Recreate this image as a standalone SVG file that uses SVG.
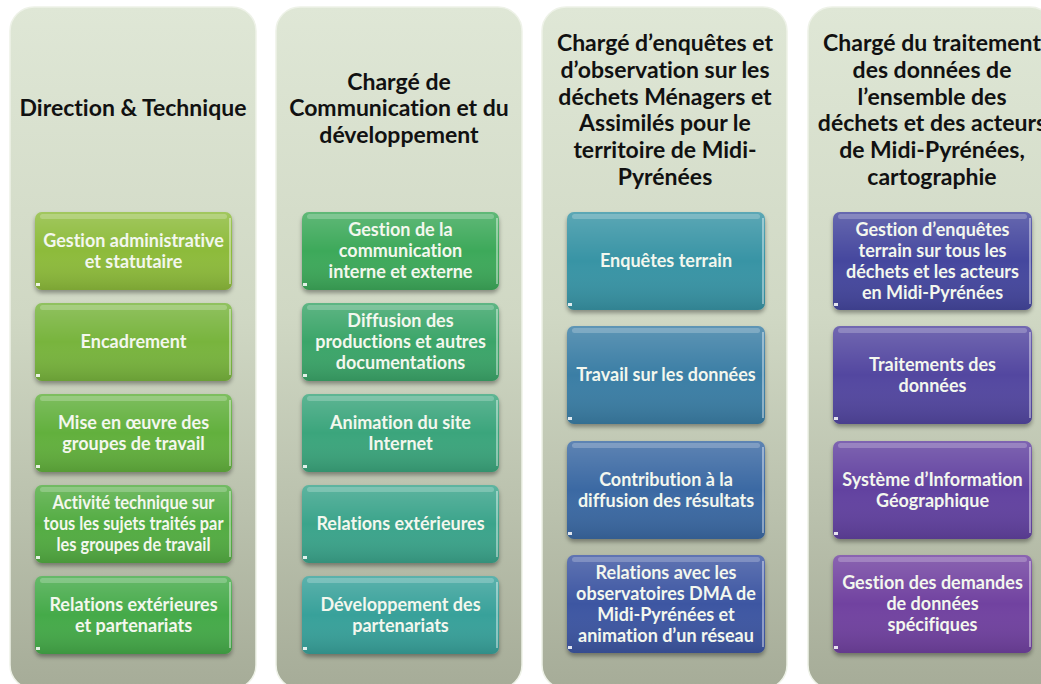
<svg xmlns="http://www.w3.org/2000/svg" width="1041" height="684" viewBox="0 0 1041 684">
<defs>
<linearGradient id="pg" x1="0" y1="0" x2="0" y2="1">
<stop offset="0" stop-color="#dfe7d6"/>
<stop offset="0.45" stop-color="#d0d8c4"/>
<stop offset="1" stop-color="#a6ac98"/>
</linearGradient>
<linearGradient id="shade" x1="0" y1="0" x2="0" y2="1">
<stop offset="0" stop-color="#ffffff" stop-opacity="0.18"/>
<stop offset="0.5" stop-color="#ffffff" stop-opacity="0"/>
<stop offset="1" stop-color="#000000" stop-opacity="0.12"/>
</linearGradient>
<filter id="sh" x="-10%" y="-10%" width="120%" height="130%">
<feDropShadow dx="0" dy="3" stdDeviation="2" flood-color="#000" flood-opacity="0.35"/>
</filter>
<style>
.panel{fill:url(#pg);stroke:#eef2e8;stroke-width:1.5}
.box{stroke:none;filter:url(#sh)}
.gl{fill:url(#shade)}
.hl{fill:#ffffff;fill-opacity:0.22}
.re{stroke:#ffffff;stroke-opacity:0.55;stroke-width:1.5;fill:none}
.mk{fill:#ffffff;fill-opacity:0.85}
.t{font-family:Lato,"Liberation Sans",sans-serif;font-weight:bold;font-size:23px;fill:#111111;text-anchor:middle;font-variant-ligatures:none}
.b{font-family:Lato,"Liberation Sans",sans-serif;font-weight:bold;font-size:18px;fill:#f3f7ee;text-anchor:middle;font-variant-ligatures:none}
</style>
</defs>
<rect width="1041" height="684" fill="#ffffff"/>

<g id="col1">
<rect class="panel" x="10" y="7" width="246" height="682" rx="24"/>
<text class="t" x="133" y="116">Direction &amp; Technique</text>
</g>
<g id="col2">
<rect class="panel" x="276" y="7" width="246" height="682" rx="24"/>
<text class="t" x="399" y="90">Chargé de</text>
<text class="t" x="399" y="116">Communication et du</text>
<text class="t" x="399" y="143">développement</text>
</g>
<g id="col3">
<rect class="panel" x="542" y="7" width="245" height="682" rx="24"/>
<text class="t" x="665" y="51">Chargé d’enquêtes et</text>
<text class="t" x="665" y="78">d’observation sur les</text>
<text class="t" x="665" y="105">déchets Ménagers et</text>
<text class="t" x="665" y="131">Assimilés pour le</text>
<text class="t" x="665" y="158">territoire de Midi-</text>
<text class="t" x="665" y="185">Pyrénées</text>
</g>
<g id="col4">
<rect class="panel" x="808" y="7" width="246" height="682" rx="24"/>
<text class="t" x="932" y="51">Chargé du traitement</text>
<text class="t" x="932" y="78">des données de</text>
<text class="t" x="932" y="105">l’ensemble des</text>
<text class="t" x="932" y="131">déchets et des acteurs</text>
<text class="t" x="932" y="158">de Midi-Pyrénées,</text>
<text class="t" x="932" y="185">cartographie</text>
</g>

<g id="connectors"></g>

<!-- Column 1 boxes -->
<g id="c1b1">
<rect class="box" x="35" y="212" width="197" height="78" rx="7" fill="#8dbb3a"/>
<rect class="gl" x="35" y="212" width="197" height="78" rx="7"/>
<rect class="hl" x="40" y="214" width="187" height="5" rx="2.5"/>
<path class="re" d="M230 218 V284"/>
<path class="mk" d="M36 283 h4 v3 h-4 z"/>
<text class="b" x="133.5" y="247">Gestion administrative</text>
<text class="b" x="133.5" y="268">et statutaire</text>
</g>
<g id="c1b2">
<rect class="box" x="35" y="303" width="197" height="78" rx="7" fill="#78b43c"/>
<rect class="gl" x="35" y="303" width="197" height="78" rx="7"/>
<rect class="hl" x="40" y="305" width="187" height="5" rx="2.5"/>
<path class="re" d="M230 309 V375"/>
<path class="mk" d="M36 374 h4 v3 h-4 z"/>
<text class="b" x="133.5" y="348">Encadrement</text>
</g>
<g id="c1b3">
<rect class="box" x="35" y="394" width="197" height="78" rx="7" fill="#62b03e"/>
<rect class="gl" x="35" y="394" width="197" height="78" rx="7"/>
<rect class="hl" x="40" y="396" width="187" height="5" rx="2.5"/>
<path class="re" d="M230 400 V466"/>
<path class="mk" d="M36 465 h4 v3 h-4 z"/>
<text class="b" x="133.5" y="429">Mise en œuvre des</text>
<text class="b" x="133.5" y="450">groupes de travail</text>
</g>
<g id="c1b4">
<rect class="box" x="35" y="485" width="197" height="78" rx="7" fill="#52ac42"/>
<rect class="gl" x="35" y="485" width="197" height="78" rx="7"/>
<rect class="hl" x="40" y="487" width="187" height="5" rx="2.5"/>
<path class="re" d="M230 491 V557"/>
<path class="mk" d="M36 556 h4 v3 h-4 z"/>
<text class="b" x="133.5" y="509" textLength="162" lengthAdjust="spacingAndGlyphs">Activité technique sur</text>
<text class="b" x="133.5" y="530" textLength="180" lengthAdjust="spacingAndGlyphs">tous les sujets traités par</text>
<text class="b" x="133.5" y="551" textLength="154" lengthAdjust="spacingAndGlyphs">les groupes de travail</text>
</g>
<g id="c1b5">
<rect class="box" x="35" y="576" width="197" height="78" rx="7" fill="#45aa48"/>
<rect class="gl" x="35" y="576" width="197" height="78" rx="7"/>
<rect class="hl" x="40" y="578" width="187" height="5" rx="2.5"/>
<path class="re" d="M230 582 V648"/>
<path class="mk" d="M36 647 h4 v3 h-4 z"/>
<text class="b" x="133.5" y="611">Relations extérieures</text>
<text class="b" x="133.5" y="632">et partenariats</text>
</g>

<!-- Column 2 boxes -->
<g id="c2b1">
<rect class="box" x="302" y="212" width="197" height="78" rx="7" fill="#3ea95a"/>
<rect class="gl" x="302" y="212" width="197" height="78" rx="7"/>
<rect class="hl" x="307" y="214" width="187" height="5" rx="2.5"/>
<path class="re" d="M497 218 V284"/>
<path class="mk" d="M303 283 h4 v3 h-4 z"/>
<text class="b" x="400.5" y="236">Gestion de la</text>
<text class="b" x="400.5" y="257">communication</text>
<text class="b" x="400.5" y="278">interne et externe</text>
</g>
<g id="c2b2">
<rect class="box" x="302" y="303" width="197" height="78" rx="7" fill="#3ba569"/>
<rect class="gl" x="302" y="303" width="197" height="78" rx="7"/>
<rect class="hl" x="307" y="305" width="187" height="5" rx="2.5"/>
<path class="re" d="M497 309 V375"/>
<path class="mk" d="M303 374 h4 v3 h-4 z"/>
<text class="b" x="400.5" y="327">Diffusion des</text>
<text class="b" x="400.5" y="348">productions et autres</text>
<text class="b" x="400.5" y="369">documentations</text>
</g>
<g id="c2b3">
<rect class="box" x="302" y="394" width="197" height="78" rx="7" fill="#3ba57b"/>
<rect class="gl" x="302" y="394" width="197" height="78" rx="7"/>
<rect class="hl" x="307" y="396" width="187" height="5" rx="2.5"/>
<path class="re" d="M497 400 V466"/>
<path class="mk" d="M303 465 h4 v3 h-4 z"/>
<text class="b" x="400.5" y="429">Animation du site</text>
<text class="b" x="400.5" y="450">Internet</text>
</g>
<g id="c2b4">
<rect class="box" x="302" y="485" width="197" height="78" rx="7" fill="#3aa48b"/>
<rect class="gl" x="302" y="485" width="197" height="78" rx="7"/>
<rect class="hl" x="307" y="487" width="187" height="5" rx="2.5"/>
<path class="re" d="M497 491 V557"/>
<path class="mk" d="M303 556 h4 v3 h-4 z"/>
<text class="b" x="400.5" y="530">Relations extérieures</text>
</g>
<g id="c2b5">
<rect class="box" x="302" y="576" width="197" height="78" rx="7" fill="#39a19a"/>
<rect class="gl" x="302" y="576" width="197" height="78" rx="7"/>
<rect class="hl" x="307" y="578" width="187" height="5" rx="2.5"/>
<path class="re" d="M497 582 V648"/>
<path class="mk" d="M303 647 h4 v3 h-4 z"/>
<text class="b" x="400.5" y="611">Développement des</text>
<text class="b" x="400.5" y="632">partenariats</text>
</g>

<!-- Column 3 boxes -->
<g id="c3b1">
<rect class="box" x="567" y="212" width="198" height="98" rx="7" fill="#3994a5"/>
<rect class="gl" x="567" y="212" width="198" height="98" rx="7"/>
<rect class="hl" x="572" y="214" width="188" height="5" rx="2.5"/>
<path class="re" d="M763 218 V304"/>
<path class="mk" d="M568 303 h4 v3 h-4 z"/>
<text class="b" x="666" y="267">Enquêtes terrain</text>
</g>
<g id="c3b2">
<rect class="box" x="567" y="326" width="198" height="98" rx="7" fill="#3a7ea5"/>
<rect class="gl" x="567" y="326" width="198" height="98" rx="7"/>
<rect class="hl" x="572" y="328" width="188" height="5" rx="2.5"/>
<path class="re" d="M763 332 V418"/>
<path class="mk" d="M568 417 h4 v3 h-4 z"/>
<text class="b" x="666" y="381">Travail sur les données</text>
</g>
<g id="c3b3">
<rect class="box" x="567" y="441" width="198" height="98" rx="7" fill="#3b69a3"/>
<rect class="gl" x="567" y="441" width="198" height="98" rx="7"/>
<rect class="hl" x="572" y="443" width="188" height="5" rx="2.5"/>
<path class="re" d="M763 447 V533"/>
<path class="mk" d="M568 532 h4 v3 h-4 z"/>
<text class="b" x="666" y="486">Contribution à la</text>
<text class="b" x="666" y="507">diffusion des résultats</text>
</g>
<g id="c3b4">
<rect class="box" x="567" y="555" width="198" height="98" rx="7" fill="#3c56a2"/>
<rect class="gl" x="567" y="555" width="198" height="98" rx="7"/>
<rect class="hl" x="572" y="557" width="188" height="5" rx="2.5"/>
<path class="re" d="M763 561 V647"/>
<path class="mk" d="M568 646 h4 v3 h-4 z"/>
<text class="b" x="666" y="579">Relations avec les</text>
<text class="b" x="666" y="600">observatoires DMA de</text>
<text class="b" x="666" y="621">Midi-Pyrénées et</text>
<text class="b" x="666" y="642">animation d’un réseau</text>
</g>

<!-- Column 4 boxes -->
<g id="c4b1">
<rect class="box" x="833" y="212" width="199" height="98" rx="7" fill="#44479e"/>
<rect class="gl" x="833" y="212" width="199" height="98" rx="7"/>
<rect class="hl" x="838" y="214" width="189" height="5" rx="2.5"/>
<path class="re" d="M1030 218 V304"/>
<path class="mk" d="M834 303 h4 v3 h-4 z"/>
<text class="b" x="932.5" y="236">Gestion d’enquêtes</text>
<text class="b" x="932.5" y="257">terrain sur tous les</text>
<text class="b" x="932.5" y="278">déchets et les acteurs</text>
<text class="b" x="932.5" y="299">en Midi-Pyrénées</text>
</g>
<g id="c4b2">
<rect class="box" x="833" y="326" width="199" height="98" rx="7" fill="#5246a0"/>
<rect class="gl" x="833" y="326" width="199" height="98" rx="7"/>
<rect class="hl" x="838" y="328" width="189" height="5" rx="2.5"/>
<path class="re" d="M1030 332 V418"/>
<path class="mk" d="M834 417 h4 v3 h-4 z"/>
<text class="b" x="932.5" y="371">Traitements des</text>
<text class="b" x="932.5" y="392">données</text>
</g>
<g id="c4b3">
<rect class="box" x="833" y="441" width="199" height="98" rx="7" fill="#6243a0"/>
<rect class="gl" x="833" y="441" width="199" height="98" rx="7"/>
<rect class="hl" x="838" y="443" width="189" height="5" rx="2.5"/>
<path class="re" d="M1030 447 V533"/>
<path class="mk" d="M834 532 h4 v3 h-4 z"/>
<text class="b" x="932.5" y="486">Système d’Information</text>
<text class="b" x="932.5" y="507">Géographique</text>
</g>
<g id="c4b4">
<rect class="box" x="833" y="555" width="199" height="98" rx="7" fill="#7143a0"/>
<rect class="gl" x="833" y="555" width="199" height="98" rx="7"/>
<rect class="hl" x="838" y="557" width="189" height="5" rx="2.5"/>
<path class="re" d="M1030 561 V647"/>
<path class="mk" d="M834 646 h4 v3 h-4 z"/>
<text class="b" x="932.5" y="589">Gestion des demandes</text>
<text class="b" x="932.5" y="610">de données</text>
<text class="b" x="932.5" y="631">spécifiques</text>
</g>
</svg>
